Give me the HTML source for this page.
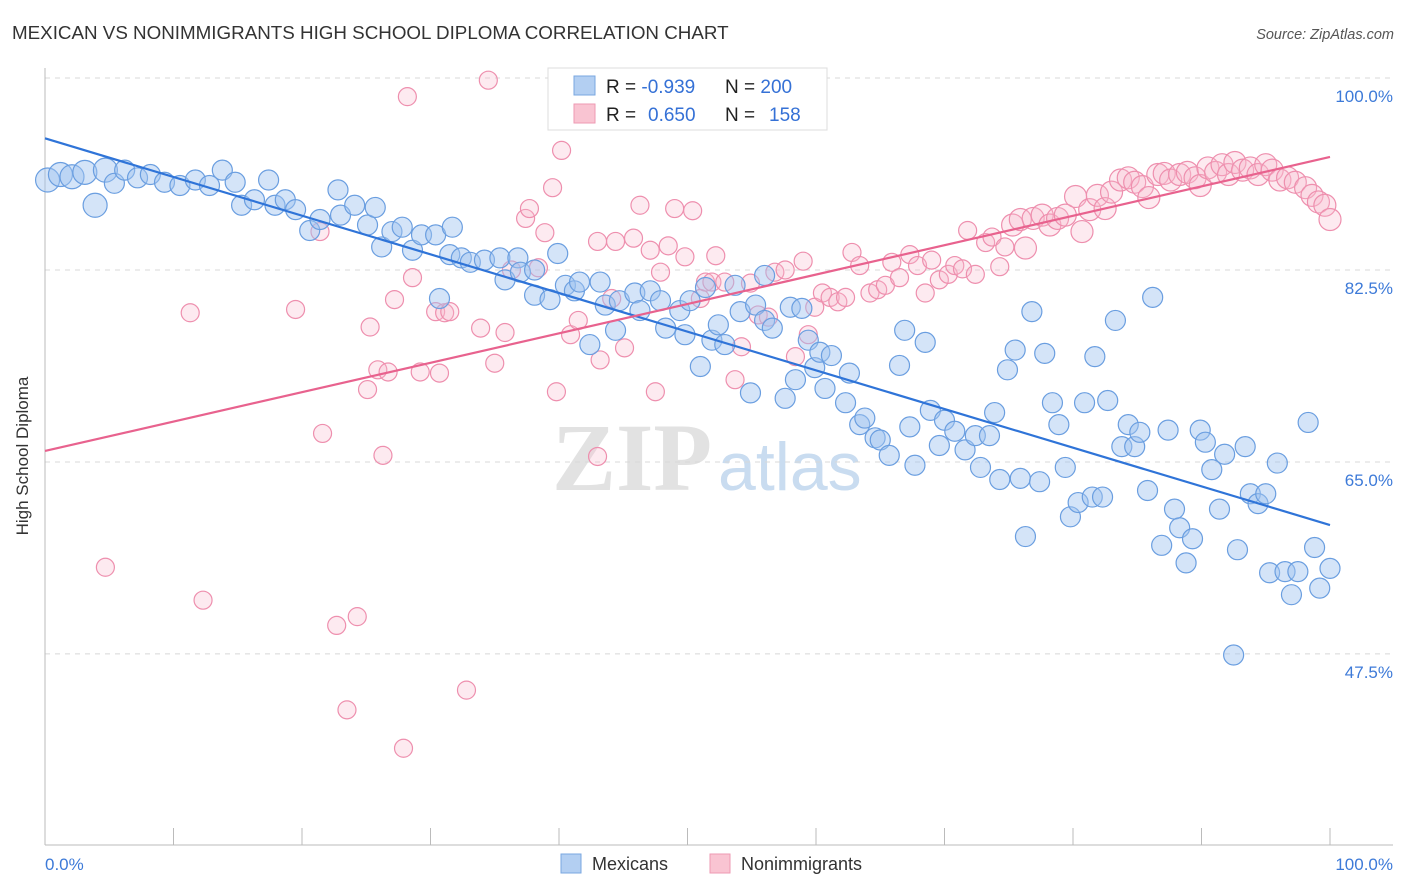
<!DOCTYPE html>
<html><head><meta charset="utf-8"><style>
body{margin:0;background:#fff;font-family:"Liberation Sans",sans-serif;}
svg{display:block}
</style></head><body>
<svg id="chart" width="1406" height="892" xmlns="http://www.w3.org/2000/svg">
<text x="12" y="39" font-size="18.8" fill="#333">MEXICAN VS NONIMMIGRANTS HIGH SCHOOL DIPLOMA CORRELATION CHART</text>
<text x="1394" y="39" font-size="14.5" fill="#555" text-anchor="end" font-style="italic">Source: ZipAtlas.com</text>
<g>
<text x="552" y="490" font-size="96" font-family="Liberation Serif,serif" fill="#e2e2e2" font-weight="bold">ZIP</text>
<text x="718" y="490" font-size="68" fill="#c9dcf0">atlas</text>
</g>
<g id="grid"></g>
<g id="axes"></g>
<g id="pinkpts"></g>
<g id="bluepts"></g>
<g id="lines"></g>
<g>
<rect x="548" y="68" width="279" height="62" fill="#fff" stroke="#ddd"/>
<rect x="574" y="76" width="21" height="19" fill="#b3cff2" stroke="#7aa7e0"/>
<rect x="574" y="104" width="21" height="19" fill="#f9c4d2" stroke="#ee9ab3"/>
<text x="606" y="93" font-size="19" fill="#222">R = <tspan fill="#3571d6">-0.939</tspan><tspan x="725">N = </tspan><tspan fill="#3571d6">200</tspan></text>
<text x="606" y="121" font-size="19" fill="#222">R = <tspan x="648" fill="#3571d6">0.650</tspan><tspan x="725">N = </tspan><tspan x="769" fill="#3571d6">158</tspan></text>
</g>
<text x="28" y="456" font-size="17" fill="#333" transform="rotate(-90 28 456)" text-anchor="middle">High School Diploma</text>
<g>
<rect x="561" y="854" width="20" height="19" fill="#b3cff2" stroke="#7aa7e0"/>
<text x="592" y="870" font-size="18" fill="#333">Mexicans</text>
<rect x="710" y="854" width="20" height="19" fill="#f9c4d2" stroke="#ee9ab3"/>
<text x="741" y="870" font-size="18" fill="#333">Nonimmigrants</text>
</g>
</svg>
<script>
const yTicks=[100,82.5,65,47.5];
const yTickLabels=["100.0%","82.5%","65.0%","47.5%"];
const blueX=[0.2,1.2,2.1,3.1,3.9,4.7,5.4,6.2,7.2,8.2,9.3,10.5,11.7,12.8,13.8,14.8,15.3,16.3,17.4,17.9,18.7,19.5,20.6,21.4,22.8,23.0,24.1,25.1,25.7,26.2,27.0,27.8,28.6,29.3,30.4,30.7,31.5,31.7,32.4,33.1,34.2,35.4,35.8,36.8,37.0,38.1,38.1,39.3,39.9,40.5,41.2,41.6,42.4,43.2,43.6,44.4,44.7,45.9,46.3,47.1,47.9,48.3,49.4,49.8,50.2,51.0,51.4,51.9,52.4,52.9,53.7,54.1,54.9,55.3,56.0,56.6,56.0,57.6,58.0,58.4,58.9,59.4,59.9,60.3,60.7,61.2,62.3,62.6,63.4,63.8,64.6,65.0,65.7,66.5,66.9,67.3,67.7,68.5,68.9,69.6,70.0,70.8,71.6,72.4,72.8,73.5,73.9,74.3,74.9,75.5,75.9,76.3,76.8,77.4,77.8,78.4,78.9,79.4,79.8,80.4,80.9,81.5,81.7,82.3,82.7,83.3,83.8,84.3,84.8,85.2,85.8,86.2,86.9,87.4,87.9,88.3,88.8,89.3,89.9,90.3,90.8,91.4,91.8,92.5,92.8,93.4,93.8,94.4,95.0,95.3,95.9,96.5,97.0,97.5,98.3,98.8,99.2,100];
const blueY=[90.7,91.2,91.0,91.4,88.4,91.6,90.4,91.6,90.9,91.2,90.5,90.2,90.7,90.2,91.6,90.5,88.4,88.9,90.7,88.4,88.9,88.0,86.1,87.1,89.8,87.5,88.4,86.6,88.2,84.6,86.0,86.4,84.3,85.7,85.7,79.9,83.9,86.4,83.6,83.2,83.4,83.6,81.6,83.6,82.3,82.5,80.2,79.8,84.0,81.1,80.6,81.4,75.7,81.4,79.3,77.0,79.7,80.4,78.8,80.6,79.7,77.2,78.8,76.6,79.7,73.7,80.9,76.1,77.5,75.7,81.1,78.7,71.3,79.3,77.9,77.2,82.0,70.8,79.1,72.5,79.0,76.1,73.6,75.0,71.7,74.7,70.4,73.1,68.4,69.0,67.2,67.0,65.6,73.8,77.0,68.2,64.7,75.9,69.7,66.5,68.8,67.8,66.1,67.4,64.5,67.4,69.5,63.4,73.4,75.2,63.5,58.2,78.7,63.2,74.9,70.4,68.4,64.5,60.0,61.3,70.4,61.8,74.6,61.8,70.6,77.9,66.4,68.4,66.4,67.7,62.4,80.0,57.4,67.9,60.7,59.0,55.8,58.0,67.9,66.8,64.3,60.7,65.7,47.4,57.0,66.4,62.1,61.2,62.1,54.9,64.9,55.0,52.9,55.0,68.6,57.2,53.5,55.3];
const pinkX=[4.7,11.3,12.3,19.5,21.4,21.6,22.7,23.5,24.3,25.1,25.3,25.9,26.3,26.7,27.2,27.9,28.2,28.6,29.2,30.4,30.7,31.1,31.5,32.8,33.9,34.5,35.0,35.8,36.3,37.4,37.7,38.4,38.9,39.5,39.8,40.2,40.9,41.5,43.0,43.2,44.1,44.4,43.0,45.1,45.8,46.3,47.1,47.5,47.9,48.5,49.0,49.8,50.4,51.0,51.4,51.9,52.2,52.9,53.7,54.2,54.9,55.5,56.3,56.8,57.6,58.4,59.0,59.4,59.9,60.5,61.1,61.7,62.3,62.8,63.4,64.2,64.8,65.4,65.9,66.5,67.3,67.9,68.5,69.0,69.6,70.3,70.8,71.4,71.8,72.4,73.2,73.7,74.3,74.7,75.3,75.9,76.3,76.9,77.6,78.2,78.8,79.4,80.2,80.7,81.3,81.9,82.5,83.0,83.7,84.3,84.8,85.4,85.9,86.6,87.1,87.6,88.3,88.9,89.5,89.9,90.5,91.1,91.6,92.1,92.6,93.2,93.8,94.4,95.0,95.5,96.1,96.7,97.3,98.1,98.6,99.1,99.6,100];
const pinkY=[55.4,78.6,52.4,78.9,86.0,67.6,50.1,42.4,50.9,71.6,77.3,73.4,65.6,73.2,79.8,38.9,98.3,81.8,73.2,78.7,73.1,78.6,78.7,44.2,77.2,99.8,74.0,76.8,82.5,87.2,88.1,82.7,85.9,90.0,71.4,93.4,76.6,77.9,85.1,74.3,79.9,85.1,65.5,75.4,85.4,88.4,84.3,71.4,82.3,84.7,88.1,83.7,87.9,79.9,81.4,81.4,83.8,81.4,72.5,75.5,81.3,78.4,78.2,82.3,82.5,74.6,83.3,76.6,79.1,80.4,80.0,79.6,80.0,84.1,82.9,80.4,80.7,81.1,83.2,81.8,83.9,82.9,80.4,83.4,81.6,82.1,82.9,82.6,86.1,82.1,85.0,85.5,82.8,84.6,86.6,87.1,84.5,87.2,87.5,86.6,87.2,87.5,89.2,86.0,88.0,89.3,88.1,89.6,90.7,90.9,90.5,90.1,89.1,91.2,91.3,90.7,91.2,91.4,90.9,90.2,91.8,91.4,92.1,91.2,92.3,91.6,91.8,91.2,92.1,91.6,90.7,90.9,90.5,90.0,89.3,88.7,88.4,87.1];
const blueTrend=[94.5,59.25];
const pinkTrend=[66.0,92.8];
const NS="http://www.w3.org/2000/svg";
const X0=45,X1=1330,Y100=78,PXPER=10.97;
function sx(v){return X0+(X1-X0)*v/100;}
function sy(v){return Y100+(100-v)*PXPER;}
function mk(tag,attrs,parent){const e=document.createElementNS(NS,tag);for(const k in attrs)e.setAttribute(k,attrs[k]);parent.appendChild(e);return e;}
const grid=document.getElementById('grid');
yTicks.forEach((t,i)=>{
 const l=mk('line',{x1:45,x2:1393,y1:sy(t),y2:sy(t),stroke:'#d8d8d8','stroke-dasharray':'5,5'},grid);
 
 
 const tx=mk('text',{x:1393,y:sy(t)+24,'font-size':17,fill:'#3d7ad8','text-anchor':'end'},grid);
 tx.textContent=yTickLabels[i];
 
 
});
const ax=document.getElementById('axes');
const xa=mk('line',{x1:45,x2:1393,y1:845,y2:845,stroke:'#bbb'},ax);


const ya=mk('line',{x1:45,x2:45,y1:68,y2:845,stroke:'#bbb'},ax);


for(let i=0;i<=10;i++){
 const t=mk('line',{x1:sx(i*10),x2:sx(i*10),y1:828,y2:845,stroke:'#bbb'},ax);
 
 
}
const xl0=mk('text',{x:45,y:870,'font-size':17,fill:'#3d7ad8'},ax);xl0.textContent='0.0%';


const xl1=mk('text',{x:1393,y:870,'font-size':17,fill:'#3d7ad8','text-anchor':'end'},ax);xl1.textContent='100.0%';


const pg=document.getElementById('pinkpts');
pinkX.forEach((x,i)=>{
 const r=x>75?11:9;
 const c=mk('circle',{cx:sx(x),cy:sy(pinkY[i]),r:r,fill:'rgba(248,186,205,0.3)',stroke:'#ee8fae','stroke-width':1.2},pg);
 
 
});
const bg=document.getElementById('bluepts');
blueX.forEach((x,i)=>{
 const r=x<5?12:10;
 const c=mk('circle',{cx:sx(x),cy:sy(blueY[i]),r:r,fill:'rgba(160,195,240,0.45)',stroke:'#6a9ee0','stroke-width':1.2},bg);
 
 
});
const lg=document.getElementById('lines');
const bl=mk('line',{x1:sx(0),y1:sy(blueTrend[0]),x2:sx(100),y2:sy(blueTrend[1]),stroke:'#2f74d8','stroke-width':2.2},lg);


const pl=mk('line',{x1:sx(0),y1:sy(pinkTrend[0]),x2:sx(100),y2:sy(pinkTrend[1]),stroke:'#e8628e','stroke-width':2.2},lg);


</script>
</body></html>
